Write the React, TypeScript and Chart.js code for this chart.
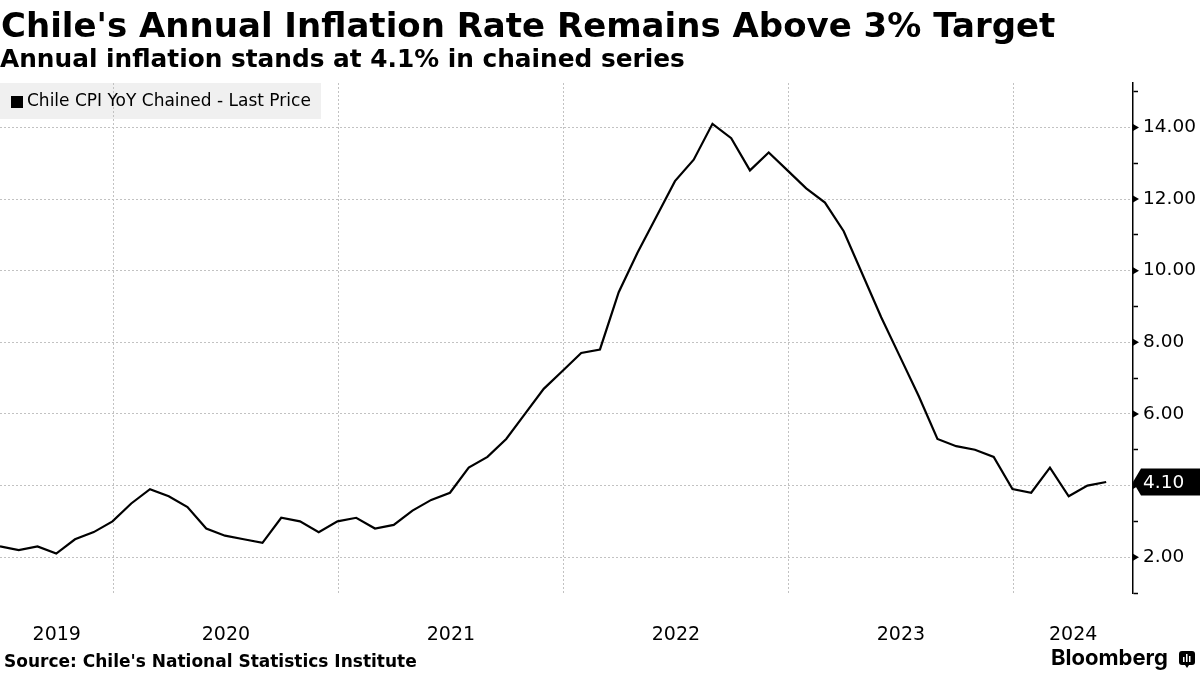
import React, { useEffect, useRef } from 'react';
import { Chart, registerables } from 'chart.js';

Chart.register(...registerables);

const TITLE = "Chile's Annual Inflation Rate Remains Above 3% Target";
const SUBTITLE = 'Annual inflation stands at 4.1% in chained series';
const LEGEND_LABEL = 'Chile CPI YoY Chained - Last Price';
const SOURCE = "Source: Chile's National Statistics Institute";
const BRAND = 'Bloomberg';

const months = [
  'Jun 2019', 'Jul 2019', 'Aug 2019', 'Sep 2019', 'Oct 2019', 'Nov 2019', 'Dec 2019',
  'Jan 2020', 'Feb 2020', 'Mar 2020', 'Apr 2020', 'May 2020', 'Jun 2020', 'Jul 2020', 'Aug 2020', 'Sep 2020', 'Oct 2020', 'Nov 2020', 'Dec 2020',
  'Jan 2021', 'Feb 2021', 'Mar 2021', 'Apr 2021', 'May 2021', 'Jun 2021', 'Jul 2021', 'Aug 2021', 'Sep 2021', 'Oct 2021', 'Nov 2021', 'Dec 2021',
  'Jan 2022', 'Feb 2022', 'Mar 2022', 'Apr 2022', 'May 2022', 'Jun 2022', 'Jul 2022', 'Aug 2022', 'Sep 2022', 'Oct 2022', 'Nov 2022', 'Dec 2022',
  'Jan 2023', 'Feb 2023', 'Mar 2023', 'Apr 2023', 'May 2023', 'Jun 2023', 'Jul 2023', 'Aug 2023', 'Sep 2023', 'Oct 2023', 'Nov 2023', 'Dec 2023',
  'Jan 2024', 'Feb 2024', 'Mar 2024', 'Apr 2024', 'May 2024',
];

const cpiYoY = [
  2.3, 2.2, 2.3, 2.1, 2.5, 2.7, 3.0,
  3.5, 3.9, 3.7, 3.4, 2.8, 2.6, 2.5, 2.4, 3.1, 3.0, 2.7, 3.0,
  3.1, 2.8, 2.9, 3.3, 3.6, 3.8, 4.5, 4.8, 5.3, 6.0, 6.7, 7.2,
  7.7, 7.8, 9.4, 10.5, 11.5, 12.5, 13.1, 14.1, 13.7, 12.8, 13.3, 12.8,
  12.3, 11.9, 11.1, 9.9, 8.7, 7.6, 6.5, 5.3, 5.1, 5.0, 4.8, 3.9,
  3.8, 4.5, 3.7, 4.0, 4.1,
];

const yearLabels = ['2019', '2020', '2021', '2022', '2023', '2024'];
const yTickValues = [1, 2, 3, 4, 5, 6, 7, 8, 9, 10, 11, 12, 13, 14, 15];
const Y_MIN = 1;
const Y_MAX = 15.24;

const X_MIN = 0;
const X_MAX = months.length - 1 + 1.43;

// year boundaries (Jan 1) sit just after the December (end-of-month) point
const yearStarts: number[] = yearLabels.map((y) => months.findIndex((m) => m.endsWith(y)) - 1 + 0.05);
const gridTicks = yearStarts.filter((v) => v > X_MIN && v < X_MAX);
const labelTicks = yearLabels.map((_, i) => {
  const a = Math.max(yearStarts[i], X_MIN);
  const b = Math.min(i + 1 < yearStarts.length ? yearStarts[i + 1] : X_MAX, X_MAX);
  return (a + b) / 2;
});
const labelMap = new Map<number, string>(labelTicks.map((v, i) => [v, yearLabels[i]]));
const gridSet = new Set<number>(gridTicks);

const GRID = '#c2c2c2';
const CLEAR = 'rgba(0,0,0,0)';
const FONT = 'DejaVu Sans';

const decorPlugin = {
  id: 'decor',
  beforeDraw(chart: any) {
    const { ctx } = chart;
    ctx.save();
    ctx.fillStyle = '#ffffff';
    ctx.fillRect(0, 0, chart.width, chart.height);
    ctx.fillStyle = '#f0f0f0';
    ctx.fillRect(0, 83, 321, 36);
    ctx.restore();
  },
  afterDraw(chart: any) {
    const { ctx, chartArea } = chart;
    const ys = chart.scales.y;
    ctx.save();
    ctx.fillStyle = '#000';
    ctx.textBaseline = 'alphabetic';
    ctx.textAlign = 'left';
    ctx.font = `bold 34px "${FONT}"`;
    ctx.fillText(TITLE, 1, 37);
    ctx.font = `bold 24.8px "${FONT}"`;
    ctx.fillText(SUBTITLE, 0, 67);

    // legend
    ctx.fillRect(11, 96, 12, 12);
    ctx.font = `17px "${FONT}"`;
    ctx.textBaseline = 'middle';
    ctx.fillText(LEGEND_LABEL, 27, 102);

    // major tick triangles
    const ax = chartArea.right;
    yTickValues.forEach((v) => {
      if (v % 2 !== 0) return;
      const y = ys.getPixelForValue(v);
      ctx.beginPath();
      ctx.moveTo(ax, y - 3.5);
      ctx.lineTo(ax + 6, y);
      ctx.lineTo(ax, y + 3.5);
      ctx.closePath();
      ctx.fill();
    });

    // last value tag
    const last = cpiYoY[cpiYoY.length - 1];
    const ly = ys.getPixelForValue(last);
    ctx.beginPath();
    ctx.moveTo(ax, ly);
    ctx.lineTo(ax + 8, ly - 13.5);
    ctx.lineTo(chart.width, ly - 13.5);
    ctx.lineTo(chart.width, ly + 13.5);
    ctx.lineTo(ax + 8, ly + 13.5);
    ctx.closePath();
    ctx.fill();
    ctx.fillStyle = '#fff';
    ctx.font = `18.5px "${FONT}"`;
    ctx.fillText(last.toFixed(2), ax + 10, ly + 1);

    // source + brand
    ctx.fillStyle = '#000';
    ctx.textBaseline = 'alphabetic';
    ctx.font = `bold 17px "${FONT}"`;
    ctx.fillText(SOURCE, 4, 667);
    ctx.font = `bold 22px Inter`;
    ctx.fillText(BRAND, 1051, 665);

    // brand icon
    const ix = 1179, iy = 651, iw = 16, ih = 14;
    ctx.beginPath();
    const r = 3;
    ctx.moveTo(ix + r, iy);
    ctx.lineTo(ix + iw - r, iy);
    ctx.quadraticCurveTo(ix + iw, iy, ix + iw, iy + r);
    ctx.lineTo(ix + iw, iy + ih - r);
    ctx.quadraticCurveTo(ix + iw, iy + ih, ix + iw - r, iy + ih);
    ctx.lineTo(ix + 10, iy + ih);
    ctx.lineTo(ix + 8, iy + ih + 3);
    ctx.lineTo(ix + 6, iy + ih);
    ctx.lineTo(ix + r, iy + ih);
    ctx.quadraticCurveTo(ix, iy + ih, ix, iy + ih - r);
    ctx.lineTo(ix, iy + r);
    ctx.quadraticCurveTo(ix, iy, ix + r, iy);
    ctx.closePath();
    ctx.fill();
    ctx.fillStyle = '#fff';
    ctx.fillRect(ix + 4, iy + 6, 1.5, 5);
    ctx.fillRect(ix + 7, iy + 3, 1.5, 8);
    ctx.fillRect(ix + 10, iy + 5, 1.5, 6);
    ctx.restore();
  },
};

export default function App() {
  const ref = useRef<HTMLCanvasElement | null>(null);

  useEffect(() => {
    document.body.style.margin = '0';
    const canvas = ref.current;
    if (!canvas) return;
    const chart = new Chart(canvas, {
      type: 'line',
      data: {
        datasets: [
          {
            label: LEGEND_LABEL,
            data: cpiYoY.map((v, i) => ({ x: i, y: v })),
            borderColor: '#000',
            borderWidth: 2.2,
            pointRadius: 0,
            tension: 0,
            fill: false,
          },
        ],
      },
      options: {
        responsive: false,
        animation: false,
        events: [],
        layout: { padding: { top: 83, left: 0, right: 0, bottom: 0 } },
        plugins: { legend: { display: false }, tooltip: { enabled: false }, title: { display: false } },
        scales: {
          x: {
            type: 'linear',
            min: X_MIN,
            max: X_MAX,
            afterBuildTicks: (scale: any) => {
              scale.ticks = [...gridTicks, ...labelTicks].sort((a, b) => a - b).map((v) => ({ value: v }));
            },
            afterFit: (scale: any) => {
              scale.height = 82;
            },
            ticks: {
              autoSkip: false,
              maxRotation: 0,
              minRotation: 0,
              padding: 31,
              color: '#000',
              font: { family: FONT, size: 19 },
              callback: (v: any) => labelMap.get(Number(v)) ?? '',
            },
            grid: {
              color: (c: any) => (c.tick && gridSet.has(c.tick.value) ? GRID : CLEAR),
              drawTicks: false,
              lineWidth: 1,
            },
            border: { display: false, dash: [2, 2] },
          },
          y: {
            type: 'linear',
            position: 'right',
            min: Y_MIN,
            max: Y_MAX,
            afterBuildTicks: (scale: any) => {
              scale.ticks = yTickValues.map((v) => ({ value: v }));
            },
            afterFit: (scale: any) => {
              scale.width = 67;
            },
            ticks: {
              autoSkip: false,
              padding: 5,
              color: '#000',
              font: { family: FONT, size: 18.5 },
              callback: (v: any) => (Number(v) % 2 === 0 ? Number(v).toFixed(2) : ''),
            },
            grid: {
              color: (c: any) => (c.tick && c.tick.value % 2 === 0 ? GRID : CLEAR),
              tickColor: (c: any) => (c.tick && c.tick.value % 2 !== 0 ? '#000' : CLEAR),
              tickLength: 5,
              tickWidth: 1.5,
              lineWidth: 1,
            },
            border: { display: true, color: '#000', width: 1.5, dash: [2, 2] },
          },
        },
      },
      plugins: [decorPlugin],
    } as any);
    return () => chart.destroy();
  }, []);

  return (
    <div style={{ position: 'fixed', left: 0, top: 0, width: 1200, height: 675, background: '#fff' }}>
      <canvas ref={ref} width={1200} height={675} style={{ width: 1200, height: 675, display: 'block' }} />
    </div>
  );
}
